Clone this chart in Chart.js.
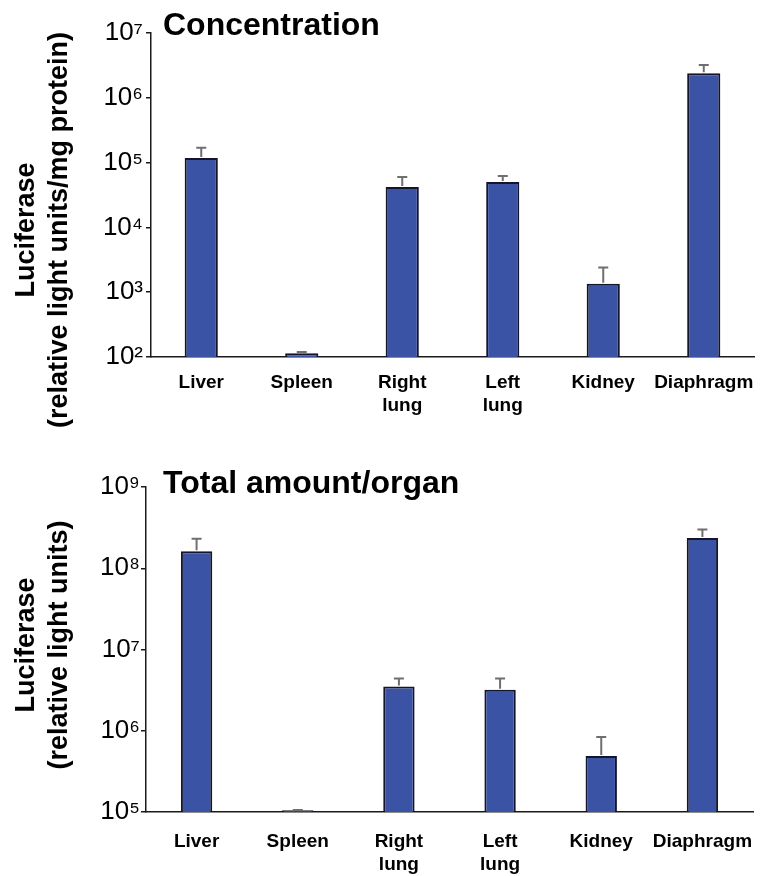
<!DOCTYPE html>
<html>
<head>
<meta charset="utf-8">
<script src="https://cdn.jsdelivr.net/npm/chart.js@4.4.1/dist/chart.umd.min.js"></script>
<style>
  html, body { margin: 0; padding: 0; background: #fff; }
  #wrap { position: relative; width: 761px; height: 876px; }
  .box { position: absolute; left: 0; width: 761px; }
  #topBox { top: 0; height: 440px; }
  #bottomBox { top: 440px; height: 436px; }
</style>
</head>
<body>
<div id="wrap">
  <div class="box" id="topBox"><canvas id="concChart"></canvas></div>
  <div class="box" id="bottomBox"><canvas id="totalChart"></canvas></div>
</div>
<script>
var organs = ['Liver', 'Spleen', ['Right', 'lung'], ['Left', 'lung'], 'Kidney', 'Diaphragm'];

// luciferase per mg protein: mean and top of error bar
var concValues = [118000, 114, 42000, 50000, 1350, 2400000];
var concErrors = [170000, 119, 60000, 62000, 2400, 3200000];

// luciferase per whole organ: mean and top of error bar
var totalValues = [162000000, 105000, 3500000, 3200000, 490000, 235000000];
var totalErrors = [230000000, 106000, 4400000, 4400000, 840000, 300000000];

var concTicks = [1e2, 1e3, 1e4, 1e5, 1e6, 1e7];
var concTickLabels = ['10²', '10³', '10⁴', '10⁵', '10⁶', '10⁷'];
var totalTicks = [1e5, 1e6, 1e7, 1e8, 1e9];
var totalTickLabels = ['10⁵', '10⁶', '10⁷', '10⁸', '10⁹'];

var FONT = '"Liberation Sans", Arial, Helvetica, sans-serif';
Chart.defaults.font.family = FONT;
Chart.defaults.color = '#000';

// upper error bars, drawn from the bar top up to the value in dataset.errors
var errorBars = {
  id: 'errorBars',
  afterDatasetsDraw: function (chart) {
    var ctx = chart.ctx;
    var y = chart.scales.y;
    var errs = chart.data.datasets[0].errors;
    ctx.save();
    ctx.strokeStyle = '#6f6f6f';
    ctx.lineWidth = 2;
    chart.getDatasetMeta(0).data.forEach(function (bar, i) {
      var top = y.getPixelForValue(errs[i]);
      ctx.beginPath();
      ctx.moveTo(bar.x, bar.y - 1);
      ctx.lineTo(bar.x, top);
      ctx.moveTo(bar.x - 5, top);
      ctx.lineTo(bar.x + 5, top);
      ctx.stroke();
    });
    ctx.restore();
  }
};

// panel heading and the two-line rotated y title
function panelText(title, titleY, axisLines, axisMid) {
  return {
    id: 'panelText',
    afterDraw: function (chart) {
      var ctx = chart.ctx;
      ctx.save();
      ctx.fillStyle = '#000';
      ctx.font = 'bold 32px ' + FONT;
      ctx.textBaseline = 'alphabetic';
      ctx.fillText(title, 163, titleY);
      ctx.font = 'bold 27px ' + FONT;
      ctx.textAlign = 'center';
      ctx.textBaseline = 'middle';
      ctx.translate(0, axisMid);
      ctx.rotate(-Math.PI / 2);
      axisLines.forEach(function (line, k) {
        ctx.fillText(line, 0, 27 + 33 * k);
      });
      ctx.restore();
    }
  };
}

function makeChart(id, values, errors, ticks, tickLabels, o) {
  return new Chart(document.getElementById(id), {
    type: 'bar',
    data: {
      labels: organs,
      datasets: [{
        data: values,
        errors: errors,
        backgroundColor: '#3a53a4',
        borderColor: '#14142a',
        borderWidth: 2,
        barPercentage: o.barPct,
        categoryPercentage: 1
      }]
    },
    options: {
      responsive: true,
      maintainAspectRatio: false,
      animation: false,
      layout: { padding: { top: o.top, right: o.right, left: 0, bottom: 0 } },
      plugins: { legend: { display: false }, tooltip: { enabled: false } },
      scales: {
        x: {
          afterFit: function (s) { s.height = o.xHeight; s.paddingLeft = 0; s.paddingRight = 0; },
          ticks: {
            font: { size: 19, weight: 'bold', lineHeight: 1.21 },
            color: '#000',
            padding: o.labelPad,
            maxRotation: 0,
            autoSkip: false
          },
          grid: { display: false, drawTicks: false },
          border: { display: true, color: '#1a1a1a', width: 1.5 }
        },
        y: {
          type: 'logarithmic',
          min: ticks[0],
          max: ticks[ticks.length - 1],
          afterBuildTicks: function (s) {
            s.ticks = ticks.map(function (v) { return { value: v }; });
          },
          afterFit: function (s) { s.width = o.axisX; s.paddingTop = 0; s.paddingBottom = 0; },
          ticks: {
            font: { size: 26 },
            color: '#000',
            padding: o.tickPad,
            callback: function (v, i) { return tickLabels[i]; }
          },
          grid: { drawOnChartArea: false, tickLength: 5, color: '#1a1a1a', lineWidth: 1.5 },
          border: { color: '#1a1a1a', width: 1.5 }
        }
      }
    },
    plugins: [errorBars, panelText(o.title, o.titleY, o.axisTitle, o.axisMid)]
  });
}

makeChart('concChart', concValues, concErrors, concTicks, concTickLabels, {
  barPct: 0.33, top: 33, right: 7, xHeight: 83, labelPad: 14.5, axisX: 151, tickPad: 3,
  title: 'Concentration', titleY: 35,
  axisTitle: ['Luciferase', '(relative light units/mg protein)'], axisMid: 230
});

makeChart('totalChart', totalValues, totalErrors, totalTicks, totalTickLabels, {
  barPct: 0.31, top: 47, right: 8, xHeight: 64, labelPad: 18, axisX: 146, tickPad: 1,
  title: 'Total amount/organ', titleY: 53,
  axisTitle: ['Luciferase', '(relative light units)'], axisMid: 205
});
</script>
</body>
</html>
